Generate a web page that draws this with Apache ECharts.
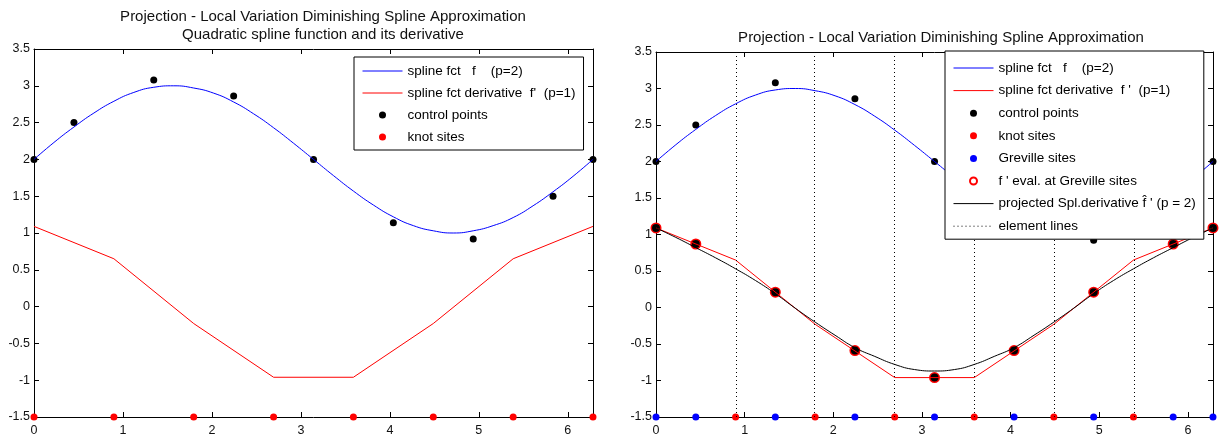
<!DOCTYPE html>
<html>
<head>
<meta charset="utf-8">
<script src="https://cdn.jsdelivr.net/npm/echarts@6/dist/echarts.min.js"></script>
<style>
html,body{margin:0;padding:0;background:#fff;}
#chart{width:1225px;height:444px;}
</style>
</head>
<body>
<div id="chart"></div>
<script>
// ---- data ----
const xTicks = [0, 1, 2, 3, 4, 5, 6];
const knotSites = [0, 0.898, 1.795, 2.693, 3.590, 4.488, 5.386, 6.283];
const interiorKnots = [0.898, 1.795, 2.693, 3.590, 4.488, 5.386];
const grevilleSites = [0, 0.449, 1.346, 2.244, 3.142, 4.039, 4.937, 5.834, 6.283];
const controlPoints = [2.0, 2.5, 3.08, 2.86, 2.0, 1.14, 0.92, 1.5, 2.0];
const splineX = [0, 0.224, 0.449, 0.673, 0.898, 1.122, 1.346, 1.571, 1.795, 2.020, 2.244, 2.468, 2.693, 2.917, 3.142, 3.366, 3.590, 3.815, 4.039, 4.264, 4.488, 4.712, 4.937, 5.161, 5.386, 5.610, 5.834, 6.059, 6.283];
const splineY = [2.0, 2.23, 2.44, 2.63, 2.79, 2.91, 2.98, 3.0, 2.97, 2.90, 2.78, 2.62, 2.43, 2.22, 2.0, 1.78, 1.57, 1.38, 1.22, 1.10, 1.03, 1.0, 1.03, 1.10, 1.21, 1.37, 1.56, 1.77, 2.0];
const derivAtKnots = [1.09, 0.65, -0.23, -0.96, -0.96, -0.23, 0.65, 1.09];
const derivAtGreville = [1.09, 0.87, 0.21, -0.59, -0.96, -0.59, 0.21, 0.87, 1.09];
const projX = [0, 0.224, 0.449, 0.673, 0.898, 1.122, 1.346, 1.571, 1.795, 2.020, 2.244, 2.468, 2.693, 2.917, 3.142, 3.366, 3.590, 3.815, 4.039, 4.264, 4.488, 4.712, 4.937, 5.161, 5.386, 5.610, 5.834, 6.059, 6.283];
const projY = [1.09, 0.96, 0.82, 0.68, 0.53, 0.37, 0.19, -0.01, -0.2, -0.38, -0.55, -0.67, -0.78, -0.85, -0.87, -0.85, -0.78, -0.67, -0.55, -0.38, -0.2, -0.01, 0.19, 0.37, 0.53, 0.68, 0.82, 0.96, 1.09];
const siteLevel = -1.5;

const N_F = 'spline fct   f    (p=2)';
const N_D1 = "spline fct derivative  f'  (p=1)";
const N_D2 = "spline fct derivative  f '  (p=1)";
const N_CP = 'control points';
const N_KS = 'knot sites';
const N_GS = 'Greville sites';
const N_FE = "f ' eval. at Greville sites";
const N_PR = "projected Spl.derivative f\u0302 ' (p = 2)";
const N_EL = 'element lines';

const zip = (xs, ys) => xs.map((x, i) => [x, ys[i]]);
const atLevel = (xs) => xs.map(x => [x, siteLevel]);

const FONT = 'Liberation Sans, Arial, Helvetica, sans-serif';
const XMIN = 0, XMAX = 6.2832;

function xAx(grid, pos, labels) {
  return {
    type: 'value', gridIndex: grid, position: pos, min: XMIN, max: XMAX, interval: 1,
    axisLine: {show: true, onZero: false, lineStyle: {color: '#000', width: 1}},
    axisTick: {show: true, inside: true, length: 5, lineStyle: {color: '#000'}},
    axisLabel: {show: labels, showMaxLabel: false, color: '#111', fontFamily: FONT, fontSize: 12.5, margin: 7},
    splitLine: {show: false}
  };
}
function yAx(grid, pos, labels) {
  return {
    type: 'value', gridIndex: grid, position: pos, min: -1.5, max: 3.5, interval: 0.5,
    axisLine: {show: true, onZero: false, lineStyle: {color: '#000', width: 1}},
    axisTick: {show: true, inside: true, length: 5, lineStyle: {color: '#000'}},
    axisLabel: {show: labels, color: '#111', fontFamily: FONT, fontSize: 12.5, margin: 4},
    splitLine: {show: false}
  };
}

const lineIcon = (name) => ({name: name, itemStyle: {opacity: 0}, lineStyle: {width: 1}});
const legendCommon = {
  orient: 'vertical', itemWidth: 40, itemHeight: 7, itemGap: 8,
  backgroundColor: '#fff', borderColor: '#000', borderWidth: 1, borderRadius: 0,
  selectedMode: false, z: 10,
  textStyle: {color: '#000', fontFamily: FONT, fontSize: 13.5, lineHeight: 14}
};

const option = {
  animation: false,
  backgroundColor: '#fff',
  title: [
    {text: 'Projection - Local Variation Diminishing Spline Approximation\nQuadratic spline function and its derivative',
     left: 318, textAlign: 'center', top: 3,
     textStyle: {fontFamily: FONT, fontSize: 15, fontWeight: 'normal', color: '#111', lineHeight: 18}},
    {text: 'Projection - Local Variation Diminishing Spline Approximation',
     left: 936, textAlign: 'center', top: 24,
     textStyle: {fontFamily: FONT, fontSize: 15, fontWeight: 'normal', color: '#111', lineHeight: 18}}
  ],
  grid: [
    {left: 34, right: 632, top: 49, bottom: 27},
    {left: 656, right: 12, top: 52, bottom: 27}
  ],
  xAxis: [xAx(0, 'bottom', true), xAx(0, 'top', false), xAx(1, 'bottom', true), xAx(1, 'top', false)],
  yAxis: [yAx(0, 'left', true), yAx(0, 'right', false), yAx(1, 'left', true), yAx(1, 'right', false)],
  legend: [
    Object.assign({}, legendCommon, {
      left: 354, top: 57, padding: [7, 8, 6, 8],
      data: [lineIcon(N_F), lineIcon(N_D1), N_CP, N_KS]
    }),
    Object.assign({}, legendCommon, {
      left: 945, top: 51, padding: [10, 8, 6, 8], itemGap: 8.6,
      data: [lineIcon(N_F), lineIcon(N_D2), N_CP, N_KS, N_GS,
             {name: N_FE, itemStyle: {borderWidth: 1}}, lineIcon(N_PR), lineIcon(N_EL)]
    })
  ],
  series: [
    // ---- left plot ----
    {name: N_F, type: 'line', xAxisIndex: 0, yAxisIndex: 0, data: zip(splineX, splineY),
     smooth: true, showSymbol: false, symbol: 'none', color: '#0000ff', lineStyle: {width: 1, color: '#0000ff'}},
    {name: N_D1, type: 'line', xAxisIndex: 0, yAxisIndex: 0, data: zip(knotSites, derivAtKnots),
     showSymbol: false, symbol: 'none', color: '#ff0000', lineStyle: {width: 1, color: '#ff0000'}},
    {name: N_CP, type: 'scatter', xAxisIndex: 0, yAxisIndex: 0, data: zip(grevilleSites, controlPoints),
     symbol: 'circle', symbolSize: 7, color: '#000', itemStyle: {opacity: 1}, clip: false},
    {name: N_KS, type: 'scatter', xAxisIndex: 0, yAxisIndex: 0, data: atLevel(knotSites),
     symbol: 'circle', symbolSize: 7, color: '#ff0000', itemStyle: {opacity: 1}, clip: false},

    // ---- right plot ----
    {name: N_EL, type: 'line', xAxisIndex: 2, yAxisIndex: 2, data: [],
     showSymbol: false, symbol: 'none', color: '#000', lineStyle: {width: 1, color: '#000', type: [1, 3]},
     markLine: {silent: true, symbol: ['none', 'none'], label: {show: false},
       lineStyle: {color: '#000', width: 1, type: [1, 3]},
       emphasis: {disabled: true},
       data: interiorKnots.map(v => ({xAxis: v}))}},
    {name: N_F, type: 'line', xAxisIndex: 2, yAxisIndex: 2, data: zip(splineX, splineY),
     smooth: true, showSymbol: false, symbol: 'none', color: '#0000ff', lineStyle: {width: 1, color: '#0000ff'}},
    {name: N_D2, type: 'line', xAxisIndex: 2, yAxisIndex: 2, data: zip(knotSites, derivAtKnots),
     showSymbol: false, symbol: 'none', color: '#ff0000', lineStyle: {width: 1, color: '#ff0000'}},
    {name: N_PR, type: 'line', xAxisIndex: 2, yAxisIndex: 2, data: zip(projX, projY),
     smooth: true, showSymbol: false, symbol: 'none', color: '#000', lineStyle: {width: 1, color: '#000'}},
    {name: N_CP, type: 'scatter', xAxisIndex: 2, yAxisIndex: 2, data: zip(grevilleSites, controlPoints),
     symbol: 'circle', symbolSize: 7, color: '#000', itemStyle: {opacity: 1}, clip: false},
    {name: N_FE, type: 'scatter', xAxisIndex: 2, yAxisIndex: 2, data: zip(grevilleSites, derivAtGreville),
     symbol: 'emptyCircle', symbolSize: 9, color: '#ff0000', itemStyle: {borderWidth: 1, opacity: 1}, clip: false},
    {name: N_CP, type: 'scatter', xAxisIndex: 2, yAxisIndex: 2, data: zip(grevilleSites, derivAtGreville),
     symbol: 'circle', symbolSize: 8, color: '#000', itemStyle: {opacity: 1}, clip: false},
    {name: N_KS, type: 'scatter', xAxisIndex: 2, yAxisIndex: 2, data: atLevel(interiorKnots),
     symbol: 'circle', symbolSize: 7, color: '#ff0000', itemStyle: {opacity: 1}, clip: false},
    {name: N_GS, type: 'scatter', xAxisIndex: 2, yAxisIndex: 2, data: atLevel(grevilleSites),
     symbol: 'circle', symbolSize: 7, color: '#0000ff', itemStyle: {opacity: 1}, clip: false}
  ]
};

const chart = echarts.init(document.getElementById('chart'), null, {renderer: 'canvas'});
chart.setOption(option);
</script>
</body>
</html>
